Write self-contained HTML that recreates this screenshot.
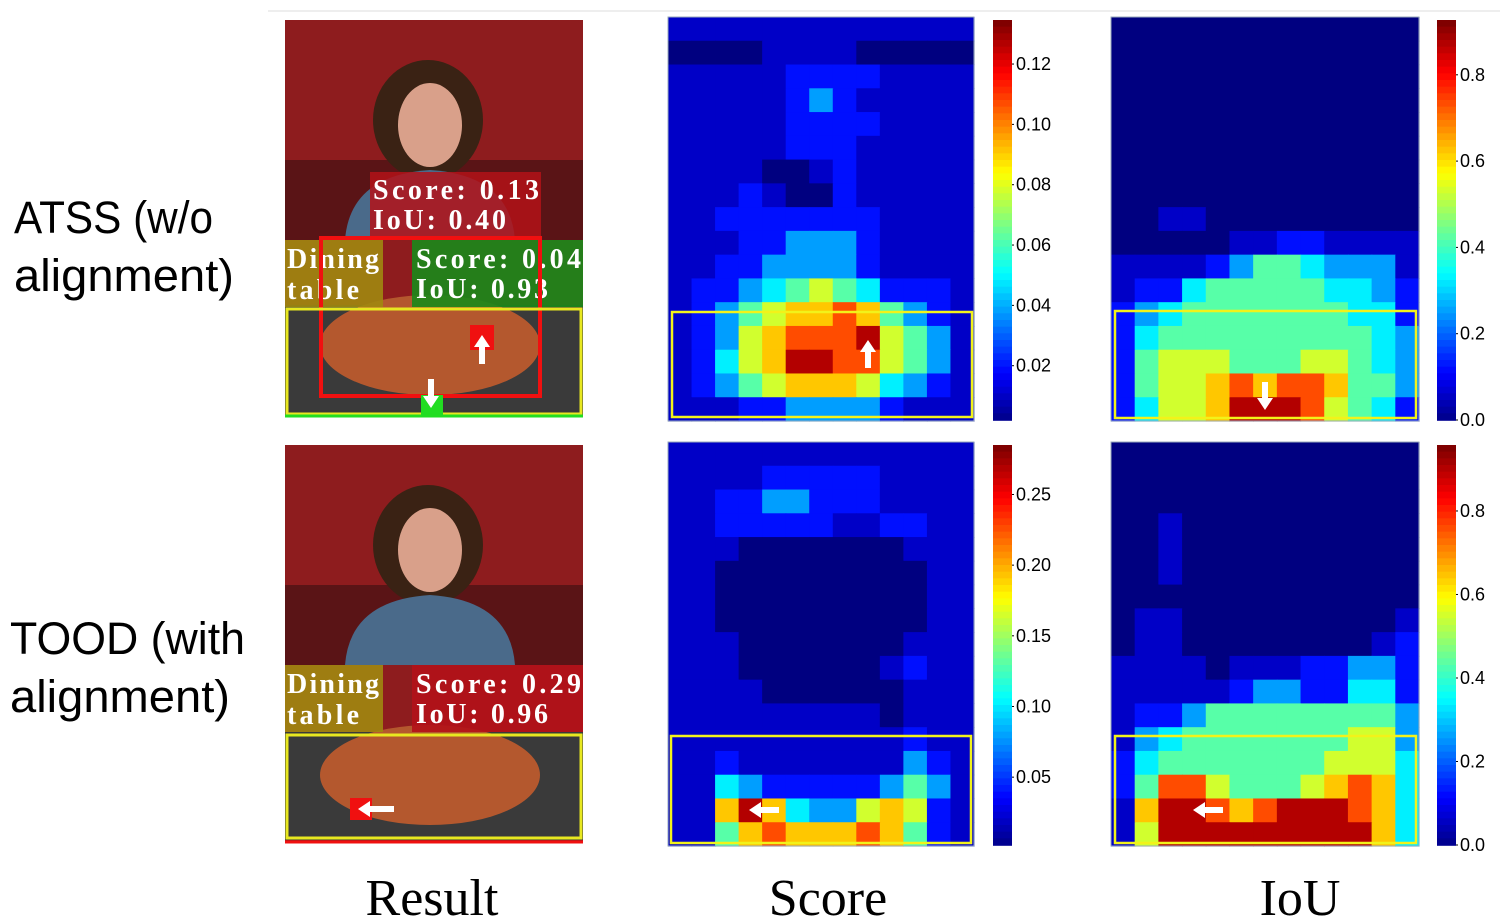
<!DOCTYPE html>
<html><head><meta charset="utf-8"><style>
html,body{margin:0;padding:0;background:#fff;}
svg{display:block;}
.lab{font-family:"Liberation Sans",sans-serif;font-size:45px;fill:#000;}
.tick{font-family:"Liberation Sans",sans-serif;font-size:18px;fill:#000;}
.ttl{font-family:"Liberation Serif",serif;font-size:52px;fill:#000;}
.bx{font-family:"Liberation Serif",serif;font-weight:bold;font-size:28px;fill:#fff;}
</style></head><body>
<svg id="fig" width="1507" height="922" viewBox="0 0 1507 922">
<line x1="268" y1="11" x2="1500" y2="11" stroke="#eee" stroke-width="2"/>
<text class="lab" x="14" y="233" textLength="199" lengthAdjust="spacingAndGlyphs">ATSS (w/o</text>
<text class="lab" x="14" y="291" textLength="220" lengthAdjust="spacingAndGlyphs">alignment)</text>
<text class="lab" x="10" y="654" textLength="235" lengthAdjust="spacingAndGlyphs">TOOD (with</text>
<text class="lab" x="10" y="712" textLength="220" lengthAdjust="spacingAndGlyphs">alignment)</text>

<g>
<rect x="285" y="20" width="298" height="397" fill="#8e1c1e"/>
<rect x="285" y="160" width="298" height="80" fill="#5a1416"/>
<ellipse cx="428" cy="120" rx="55" ry="60" fill="#3a2214"/>
<ellipse cx="430" cy="125" rx="32" ry="42" fill="#d9a08a"/>
<path d="M345 240 Q350 175 430 170 Q510 175 515 240 Z" fill="#4a6a8a"/>
<rect x="285" y="305" width="298" height="110" fill="#3a3a3a"/>
<ellipse cx="430" cy="345" rx="110" ry="50" fill="#b4582e"/>
<rect x="370" y="172" width="171" height="66" fill="#b31218" opacity="0.85"/>
<text class="bx" x="373" y="199" textLength="166" lengthAdjust="spacing">Score: 0.13</text>
<text class="bx" x="373" y="229" textLength="133" lengthAdjust="spacing">IoU: 0.40</text>
<rect x="285" y="240" width="98" height="67" fill="#a08810" opacity="0.9"/>
<text class="bx" x="287" y="268" textLength="92" lengthAdjust="spacing">Dining</text>
<text class="bx" x="287" y="299" textLength="72" lengthAdjust="spacing">table</text>
<rect x="412" y="240" width="171" height="67" fill="#1a8a1a" opacity="0.9"/>
<text class="bx" x="416" y="268" textLength="165" lengthAdjust="spacing">Score: 0.04</text>
<text class="bx" x="416" y="298" textLength="132" lengthAdjust="spacing">IoU: 0.93</text>
<rect x="321" y="238" width="219" height="158" fill="none" stroke="#f01010" stroke-width="4"/>
<rect x="287" y="309" width="294" height="105" fill="none" stroke="#e8e820" stroke-width="3"/>
<line x1="285" y1="416" x2="583" y2="416" stroke="#22dd22" stroke-width="3"/>
<rect x="470" y="325" width="24" height="25" fill="#f01010"/>
<rect x="421" y="395" width="22" height="20" fill="#22dd22"/>
<path d="M482 335 l-8 12 h5 v17 h6 v-17 h5 z" fill="#fff"/>
<path d="M431 408 l-8 -12 h5 v-17 h6 v17 h5 z" fill="#fff"/>
</g>
<g>
<rect x="285" y="445" width="298" height="397" fill="#8e1c1e"/>
<rect x="285" y="585" width="298" height="80" fill="#5a1416"/>
<ellipse cx="428" cy="545" rx="55" ry="60" fill="#3a2214"/>
<ellipse cx="430" cy="550" rx="32" ry="42" fill="#d9a08a"/>
<path d="M345 665 Q350 600 430 595 Q510 600 515 665 Z" fill="#4a6a8a"/>
<rect x="285" y="732" width="298" height="108" fill="#3a3a3a"/>
<ellipse cx="430" cy="775" rx="110" ry="50" fill="#b4582e"/>
<rect x="285" y="665" width="98" height="67" fill="#a08810" opacity="0.9"/>
<text class="bx" x="287" y="693" textLength="92" lengthAdjust="spacing">Dining</text>
<text class="bx" x="287" y="724" textLength="72" lengthAdjust="spacing">table</text>
<rect x="412" y="665" width="171" height="67" fill="#b31218" opacity="0.9"/>
<text class="bx" x="416" y="693" textLength="165" lengthAdjust="spacing">Score: 0.29</text>
<text class="bx" x="416" y="723" textLength="132" lengthAdjust="spacing">IoU: 0.96</text>
<rect x="287" y="735" width="294" height="103" fill="none" stroke="#e8e820" stroke-width="3"/>
<line x1="285" y1="842" x2="583" y2="842" stroke="#f01010" stroke-width="3"/>
<rect x="350" y="798" width="22" height="22" fill="#f01010"/>
<path d="M358 809 l12 -8 v5 h24 v6 h-24 v5 z" fill="#fff"/>
</g>
<g id="maps"></g>
<text class="ttl" x="432" y="915" text-anchor="middle">Result</text>
<text class="ttl" x="828" y="915" text-anchor="middle">Score</text>
<text class="ttl" x="1300" y="915" text-anchor="middle">IoU</text>
</svg>
<script>
// intensity levels 0-9 (jet colormap position), 17 rows x 13 cols
const scoreAtss = [
[1,1,1,1,1,1,1,1,1,1,1,1,1],[0,0,0,0,1,1,1,1,0,0,0,0,0],[1,1,1,1,1,2,2,2,2,1,1,1,1],
[1,1,1,1,1,2,3,2,1,1,1,1,1],[1,1,1,1,1,2,2,2,2,1,1,1,1],[1,1,1,1,1,2,2,2,1,1,1,1,1],
[1,1,1,1,0,0,1,2,1,1,1,1,1],[1,1,1,2,1,0,0,2,1,1,1,1,1],[1,1,2,2,2,2,2,2,2,1,1,1,1],
[1,1,1,2,2,3,3,3,2,1,1,1,1],[1,1,2,2,3,3,3,3,2,1,1,1,1],[1,2,2,3,4,5,6,5,4,2,2,2,1],
[1,2,3,5,6,7,7,8,7,5,3,2,1],[1,2,3,6,7,8,8,8,9,6,5,3,1],[1,2,4,6,7,9,9,8,8,6,5,3,1],
[1,2,3,5,6,7,7,7,6,4,3,2,1],[1,1,1,2,2,3,3,3,3,2,1,1,1]];
const iouAtss = [
[0,0,0,0,0,0,0,0,0,0,0,0,0],[0,0,0,0,0,0,0,0,0,0,0,0,0],[0,0,0,0,0,0,0,0,0,0,0,0,0],
[0,0,0,0,0,0,0,0,0,0,0,0,0],[0,0,0,0,0,0,0,0,0,0,0,0,0],[0,0,0,0,0,0,0,0,0,0,0,0,0],
[0,0,0,0,0,0,0,0,0,0,0,0,0],[0,0,0,0,0,0,0,0,0,0,0,0,0],[0,0,1,1,0,0,0,0,0,0,0,0,0],
[0,0,0,0,0,1,1,2,2,1,1,1,1],[1,1,1,1,2,3,5,5,4,3,3,3,1],[1,2,2,4,5,5,5,5,5,4,4,3,2],
[2,3,4,5,5,5,5,5,5,5,4,4,2],[2,4,5,5,5,5,5,5,5,5,5,4,3],[2,5,6,6,6,5,5,5,6,6,5,4,3],
[2,5,6,6,7,8,7,8,8,7,5,5,3],[2,4,6,6,7,9,9,9,8,6,5,4,2]];
const scoreTood = [
[1,1,1,1,1,1,1,1,1,1,1,1,1],[1,1,1,1,2,2,2,2,2,1,1,1,1],[1,1,2,2,3,3,2,2,2,1,1,1,1],
[1,1,2,2,2,2,2,1,1,2,2,1,1],[1,1,1,0,0,0,0,0,0,0,1,1,1],[1,1,0,0,0,0,0,0,0,0,0,1,1],
[1,1,0,0,0,0,0,0,0,0,0,1,1],[1,1,0,0,0,0,0,0,0,0,0,1,1],[1,1,1,0,0,0,0,0,0,0,1,1,1],
[1,1,1,0,0,0,0,0,0,1,2,1,1],[1,1,1,1,0,0,0,0,0,0,1,1,1],[1,1,1,1,1,1,1,1,1,0,1,1,1],
[1,1,1,1,1,1,1,1,1,1,2,1,1],[1,1,2,1,1,1,1,1,1,1,3,2,1],[1,1,4,3,2,2,2,2,2,3,5,3,1],
[1,1,7,9,7,4,3,3,6,7,6,2,1],[1,1,5,7,8,7,7,7,8,7,5,2,1]];
const iouTood = [
[0,0,0,0,0,0,0,0,0,0,0,0,0],[0,0,0,0,0,0,0,0,0,0,0,0,0],[0,0,0,0,0,0,0,0,0,0,0,0,0],
[0,0,1,0,0,0,0,0,0,0,0,0,0],[0,0,1,0,0,0,0,0,0,0,0,0,0],[0,0,1,0,0,0,0,0,0,0,0,0,0],
[0,0,0,0,0,0,0,0,0,0,0,0,0],[0,1,1,0,0,0,0,0,0,0,0,0,1],[0,1,1,0,0,0,0,0,0,0,0,1,2],
[1,1,1,1,0,1,1,1,2,2,3,3,2],[1,1,1,1,1,2,3,3,2,2,4,4,2],[1,2,2,3,5,5,5,5,5,5,5,5,3],
[1,3,4,5,5,5,5,5,5,5,6,6,3],[2,4,5,5,5,5,5,5,5,6,6,6,4],[2,5,8,8,6,5,5,5,6,7,8,7,4],
[1,7,9,9,8,7,8,9,9,9,8,7,4],[1,6,9,9,9,9,9,9,9,9,9,7,4]];
const scoreAtssTicks = ["0.12","0.10","0.08","0.06","0.04","0.02"];
const scoreAtssTickVals = [0.12,0.10,0.08,0.06,0.04,0.02];
const iouAtssTicks = ["0.8","0.6","0.4","0.2","0.0"];
const iouAtssTickVals = [0.8,0.6,0.4,0.2,0.0];
const scoreToodTicks = ["0.25","0.20","0.15","0.10","0.05"];
const scoreToodTickVals = [0.25,0.20,0.15,0.10,0.05];
const iouToodTicks = ["0.8","0.6","0.4","0.2","0.0"];
const iouToodTickVals = [0.8,0.6,0.4,0.2,0.0];

const LV=[0.0,0.07,0.14,0.28,0.36,0.46,0.58,0.68,0.8,0.95];
function jet(t){const c=v=>Math.round(255*Math.max(0,Math.min(1,v)));
 return `rgb(${c(1.5-Math.abs(4*t-3))},${c(1.5-Math.abs(4*t-2))},${c(1.5-Math.abs(4*t-1))})`;}
const NS="http://www.w3.org/2000/svg";
const root=document.getElementById('maps');
function mk(tag,attrs,parent){const e=document.createElementNS(NS,tag);for(const k in attrs)e.setAttribute(k,attrs[k]);parent.appendChild(e);return e;}
function heat(grid,x0,y0,w,h,name){
 const g=mk('g',{},root);
 
 
 const rows=grid.length,cols=grid[0].length,cw=w/cols,ch=h/rows;
 mk('rect',{x:x0,y:y0,width:w,height:h,fill:jet(LV[grid[0][0]])},g);
 grid.forEach((row,i)=>row.forEach((v,j)=>{
  const r=mk('rect',{x:(x0+j*cw).toFixed(2),y:(y0+i*ch).toFixed(2),width:(cw+0.6).toFixed(2),height:(ch+0.6).toFixed(2),fill:jet(LV[v])},g);
  
  
 }));
 mk('rect',{x:x0,y:y0,width:w,height:h,fill:'none',stroke:'#9ab',"stroke-width":1},g);
 return g;
}
function cbar(x,y0,y1,vmin,vmax,labels,vals,name){
 const g=mk('g',{},root);
 
 
 const n=60;for(let i=0;i<n;i++){const t=1-i/n;mk('rect',{x:x,y:y0+(y1-y0)*i/n,width:19,height:(y1-y0)/n+0.8,fill:jet(t)},g);}
 const sy=v=>y1-(v-vmin)/(vmax-vmin)*(y1-y0);
 vals.forEach((v,i)=>{const yy=sy(v);
  mk('line',{x1:x+19,y1:yy,x2:x+21,y2:yy,stroke:'#000'},g);
  const t=mk('text',{x:x+23,y:yy+6,class:'tick'},g);t.textContent=labels[i];
  
  
 });
}
function box(x,y,w,h){const r=mk('rect',{x:x,y:y,width:w,height:h,fill:'none',stroke:'#f2f21a',"stroke-width":2.5},root);
 
 }
function arrow(d){const p=mk('path',{d:d,fill:'#fff'},root);
 
 }

heat(scoreAtss,668,17,306,404,'score-heatmap-atss');
heat(iouAtss,1111,17,308,404,'iou-heatmap-atss');
heat(scoreTood,668,442,306,404,'score-heatmap-tood');
heat(iouTood,1111,442,308,404,'iou-heatmap-tood');
cbar(993,20,420,0.002,0.1346,scoreAtssTicks,scoreAtssTickVals,'score-colorbar-atss');
cbar(1437,20,420,0.0,0.927,iouAtssTicks,iouAtssTickVals,'iou-colorbar-atss');
cbar(993,445,845,0.002,0.285,scoreToodTicks,scoreToodTickVals,'score-colorbar-tood');
cbar(1437,445,845,0.0,0.958,iouToodTicks,iouToodTickVals,'iou-colorbar-tood');
box(672,312,300,105);box(1115,311,301,107);box(671,736,300,107);box(1115,736,301,107);
arrow("M868 340 l-8 12 h5 v16 h6 v-16 h5 z");
arrow("M1265 410 l-8 -12 h5 v-16 h6 v16 h5 z");
arrow("M749 810 l12 -8 v5 h18 v6 h-18 v5 z");
arrow("M1193 810 l12 -8 v5 h18 v6 h-18 v5 z");
</script>
</body></html>
